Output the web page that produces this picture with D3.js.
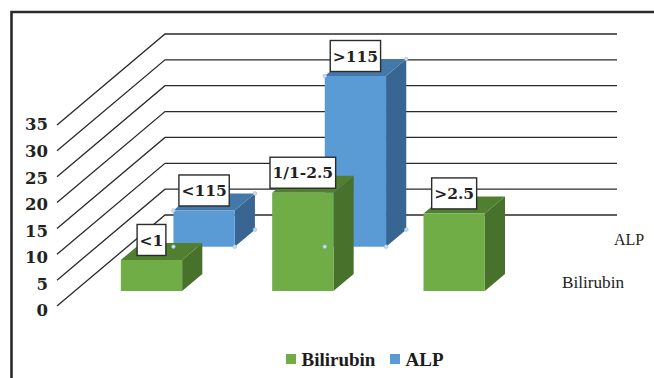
<!DOCTYPE html>
<html>
<head>
<meta charset="utf-8">
<script src="https://cdn.jsdelivr.net/npm/d3@7/dist/d3.min.js"></script>
<style>
html,body{margin:0;padding:0;background:#fff;}
svg{display:block;}
</style>
</head>
<body>
<div id="chart"></div>
<script>
const bilirubinLabels = ["<1", "1/1-2.5", ">2.5"];
const bilirubinValues = [6, 19, 15];
const alpLabels = ["<115", ">115"];
const alpValues = [7, 33];
const slots = [0, 1, 2];
const valueTicks = [0, 5, 10, 15, 20, 25, 30, 35];
const legendItems = ["Bilirubin", "ALP"];

const W = 654, H = 378;
const svg = d3.select("#chart").append("svg").attr("width", W).attr("height", H);

const serifBold = "'DejaVu Serif', serif";
const times = "'Liberation Serif', serif";
const colors = {
  Bilirubin: { front: "#70ad47", top: "#507f30", side: "#48722b" },
  ALP: { front: "#5b9bd5", top: "#4478a8", side: "#386592" }
};

// Oblique projection: depth 0 is the front edge of the floor, depth 1 the back wall.
const depthX = d3.scaleLinear().domain([0, 1]).range([0, 108]);
const depthY = d3.scaleLinear().domain([0, 1]).range([0, -91]);
const y = d3.scaleLinear().domain([0, 35]).range([306, 125]);
const x = d3.scaleBand().domain(slots).range([58, 512]).paddingInner(0.595).paddingOuter(0.2975);
const wallRight = 617;

const project = (px, value, depth) => [px + depthX(depth), y(value) + depthY(depth)];

// Outer frame, open on the right and bottom
svg.append("path")
  .attr("d", d3.line()([[11.5, H], [11.5, 12], [W, 12]]))
  .attr("fill", "none").attr("stroke", "#2b2b2b").attr("stroke-width", 2.6);

// Side wall diagonals and back wall gridlines
const grid = svg.append("g").attr("fill", "none");
valueTicks.forEach(t => {
  grid.append("path")
    .attr("d", d3.line()([project(57, t, 0), project(57, t, 1), [wallRight, project(57, t, 1)[1]]]))
    .attr("stroke", "#2a2a2a").attr("stroke-width", 1.3);
});

// Value axis labels run on a slightly wider span than the wall lines
const axisScale = d3.scaleLinear().domain([0, 35]).range([310, 124]);
const axis = d3.axisLeft(axisScale).tickValues(valueTicks).tickSize(0).tickPadding(0);
const axisG = svg.append("g").attr("transform", "translate(48,0)").call(axis);
axisG.select(".domain").remove();
axisG.selectAll("text")
  .attr("font-family", serifBold).attr("font-weight", 700).attr("font-size", 16.5)
  .attr("fill", "#222").attr("dy", "0.36em");

// One 3D column: front, top and side faces
function column(g, c, slot, value, d0, d1) {
  const l = x(slot), r = l + x.bandwidth();
  const poly = pts => d3.line()(pts) + "Z";
  g.append("path").attr("fill", c.side)
    .attr("d", poly([project(r, value, d0), project(r, value, d1), project(r, 0, d1), project(r, 0, d0)]));
  g.append("path").attr("fill", c.top)
    .attr("d", poly([project(l, value, d0), project(l, value, d1), project(r, value, d1), project(r, value, d0)]));
  g.append("path").attr("fill", c.front)
    .attr("d", poly([project(l, value, d0), project(r, value, d0), project(r, 0, d0), project(l, 0, d0)]));
}

const alpDepth = [0.652, 0.839];
const bilDepth = [0.165, 0.352];

const alpG = svg.append("g");
alpValues.forEach((v, i) => column(alpG, colors.ALP, slots[i], v, alpDepth[0], alpDepth[1]));

const bilG = svg.append("g");
bilirubinValues.forEach((v, i) => column(bilG, colors.Bilirubin, slots[i], v, bilDepth[0], bilDepth[1]));

// Selection handles on the corners of the ALP columns
const handles = svg.append("g");
alpValues.forEach((v, i) => {
  const l = x(slots[i]), r = l + x.bandwidth();
  [project(l, v, alpDepth[0]), project(l, 0, alpDepth[0]), project(r, 0, alpDepth[0]),
   project(r, 0, alpDepth[1]), project(r, v, alpDepth[1])].forEach(p => {
    handles.append("circle").attr("cx", p[0]).attr("cy", p[1]).attr("r", 1.8)
      .attr("fill", "#cfe2f0").attr("stroke", "#8fbbdc").attr("stroke-width", 0.7);
  });
});

// Boxed category labels above each column
function boxedLabel(text, slot, value, depth) {
  const p = project(x(slot) + x.bandwidth() / 2, value, depth);
  const g = svg.append("g").attr("transform", `translate(${p[0]},${p[1] - 20})`);
  const rect = g.append("rect").attr("fill", "#fff").attr("stroke", "#2b2b2b").attr("stroke-width", 1.4);
  const t = g.append("text").text(text)
    .attr("text-anchor", "middle").attr("dy", "0.36em")
    .attr("font-family", serifBold).attr("font-weight", 700).attr("font-size", 15.5).attr("fill", "#222");
  const w = t.node().getComputedTextLength() + 5;
  rect.attr("x", -w / 2).attr("y", -15.5).attr("width", w).attr("height", 31);
}
alpLabels.forEach((s, i) => boxedLabel(s, slots[i], alpValues[i], alpDepth[0]));
bilirubinLabels.forEach((s, i) => boxedLabel(s, slots[i], bilirubinValues[i], bilDepth[0]));

// Series names along the depth axis
svg.append("text").text("ALP").attr("x", 614).attr("y", 245)
  .attr("font-family", times).attr("font-size", 16).attr("fill", "#222");
svg.append("text").text("Bilirubin").attr("x", 562).attr("y", 288)
  .attr("font-family", times).attr("font-size", 17.2).attr("fill", "#222");

// Legend
const legendX = d3.scaleOrdinal().domain(legendItems).range([286, 390]);
legendItems.forEach(name => {
  svg.append("rect").attr("x", legendX(name)).attr("y", 354).attr("width", 10).attr("height", 10)
    .attr("fill", colors[name].front);
  svg.append("text").text(name).attr("x", legendX(name) + 15.5).attr("y", 366)
    .attr("font-family", times).attr("font-weight", 700).attr("font-size", 19).attr("fill", "#1c1c1c");
});
</script>
</body>
</html>
